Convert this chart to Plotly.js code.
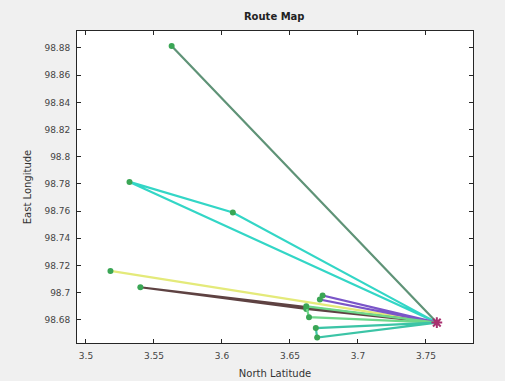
<!DOCTYPE html>
<html><head><meta charset="utf-8">
<script src="https://cdn.plot.ly/plotly-3.0.1.min.js"></script>
<style>html,body{margin:0;padding:0;background:#f0f0f0;}#chart{width:505px;height:381px;}</style>
</head><body><div id="chart"></div>
<script>
// Hub (depot)
const hubLat = 3.758;
const hubLon = 98.678;
// Routes: latitude (x) and longitude (y) of stops, each starts and ends at the hub
const route1Lat = [3.758, 3.563, 3.758];
const route1Lon = [98.678, 98.8815, 98.678];
const route2Lat = [3.758, 3.532, 3.608, 3.758];
const route2Lon = [98.678, 98.7815, 98.759, 98.678];
const route3Lat = [3.758, 3.518, 3.758];
const route3Lon = [98.678, 98.716, 98.678];
const route4Lat = [3.758, 3.540, 3.662, 3.758];
const route4Lon = [98.678, 98.704, 98.688, 98.678];
const route5Lat = [3.758, 3.674, 3.672, 3.758];
const route5Lon = [98.678, 98.698, 98.695, 98.678];
const route6Lat = [3.758, 3.662, 3.664, 3.758];
const route6Lon = [98.678, 98.690, 98.682, 98.678];
const route7Lat = [3.758, 3.669, 3.670, 3.758];
const route7Lon = [98.678, 98.674, 98.667, 98.678];
const routeColors = ['#5f9377', '#33d6c6', '#e4ea7a', '#5e4242', '#7a55c8', '#6fd88a', '#3cc4a6'];

const lats = [route1Lat, route2Lat, route3Lat, route4Lat, route5Lat, route6Lat, route7Lat];
const lons = [route1Lon, route2Lon, route3Lon, route4Lon, route5Lon, route6Lon, route7Lon];

const traces = lats.map((la, i) => ({
  x: la, y: lons[i], mode: 'lines+markers', type: 'scatter',
  line: {color: routeColors[i], width: 2.2},
  marker: {color: la.map((v, k) => (k === 0 || k === la.length - 1) ? 'rgba(0,0,0,0)' : '#3aa655'), size: 6},
  showlegend: false, hoverinfo: 'x+y'
}));
traces.push({x: [hubLat], y: [hubLon], mode: 'markers', type: 'scatter',
  marker: {symbol: 'asterisk-open', size: 9, color: '#a8306f', line: {color: '#a8306f', width: 2}}, showlegend: false});

const axisCommon = {
  showgrid: false, zeroline: false, showline: true, mirror: 'ticks',
  linecolor: '#262626', linewidth: 1, ticks: 'inside', ticklen: 4, tickcolor: '#262626',
  ticklabelstandoff: 4,
  tickfont: {family: 'DejaVu Sans, sans-serif', size: 9, color: '#444'}
};
const layout = {
  width: 505, height: 381,
  paper_bgcolor: '#f0f0f0', plot_bgcolor: '#ffffff',
  margin: {l: 77, r: 32, t: 31, b: 38},
  title: {text: '<b>Route Map</b>', font: {family: 'DejaVu Sans, sans-serif', size: 10, color: '#222'}, x: 0.543, xanchor: 'center', y: 0.957, yanchor: 'middle'},
  xaxis: Object.assign({}, axisCommon, {range: [3.4934, 3.7846], dtick: 0.05, tick0: 3.5,
    title: {text: 'North Latitude', font: {family: 'DejaVu Sans, sans-serif', size: 10, color: '#333'}, standoff: 10}}),
  yaxis: Object.assign({}, axisCommon, {range: [98.663, 98.8925], dtick: 0.02, tick0: 98.68,
    title: {text: 'East Longitude', font: {family: 'DejaVu Sans, sans-serif', size: 10, color: '#333'}, standoff: 10}})
};
Plotly.newPlot('chart', traces, layout, {displayModeBar: false, staticPlot: true});
</script></body></html>
